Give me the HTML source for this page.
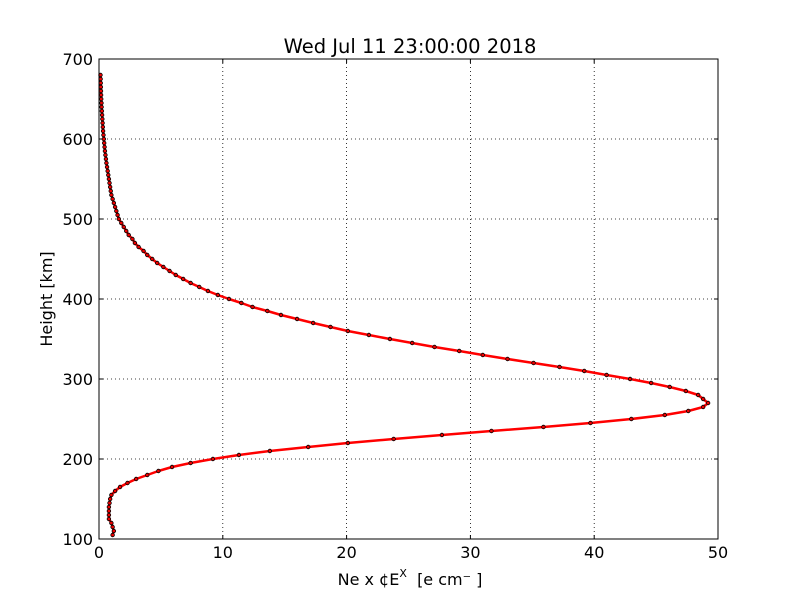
<!DOCTYPE html>
<html><head><meta charset="utf-8"><style>
body{margin:0;background:#fff}
svg text{font-family:"DejaVu Sans","Liberation Sans",sans-serif;fill:#000}
</style></head><body>
<svg id="chart" width="800" height="600">
<rect width="800" height="600" fill="#fff"/>
<text x="410" y="53" font-size="19.5" text-anchor="middle">Wed Jul 11 23:00:00 2018</text>
<g id="grid"></g>
<g id="ticks"></g>
<g id="series"></g>
<rect x="99" y="59" width="619" height="480" fill="none" stroke="#000" stroke-width="1"/>
<text x="410" y="585" font-size="16" text-anchor="middle">Ne x ¢E<tspan dy="-8" font-size="11">X</tspan><tspan dy="8" xml:space="preserve">  [e cm⁻ ]</tspan></text>
<text x="52" y="299" font-size="16" text-anchor="middle" transform="rotate(-90 52 299)">Height [km]</text>
</svg>
<script>
const xTicks=[0,10,20,30,40,50];
const yTicks=[100,200,300,400,500,600,700];
const heights=[105,110,115,120,125,130,135,140,145,150,155,160,165,170,175,180,185,190,195,200,205,210,215,220,225,230,235,240,245,250,255,260,265,270,275,280,285,290,295,300,305,310,315,320,325,330,335,340,345,350,355,360,365,370,375,380,385,390,395,400,405,410,415,420,425,430,435,440,445,450,455,460,465,470,475,480,485,490,495,500,505,510,515,520,525,530,535,540,545,550,555,560,565,570,575,580,585,590,595,600,605,610,615,620,625,630,635,640,645,650,655,660,665,670,675,680];
const density=[1.1,1.2,1.1,1.0,0.8,0.8,0.8,0.8,0.85,0.9,1.0,1.3,1.7,2.3,3.0,3.9,4.8,5.9,7.4,9.2,11.3,13.8,16.9,20.1,23.8,27.7,31.7,35.9,39.7,43.0,45.7,47.6,48.8,49.2,48.8,48.4,47.4,46.1,44.6,42.9,41.0,39.2,37.2,35.1,33.0,31.0,29.1,27.1,25.3,23.5,21.8,20.1,18.7,17.3,16.0,14.7,13.6,12.4,11.5,10.5,9.6,8.8,8.1,7.4,6.8,6.2,5.7,5.2,4.7,4.3,3.9,3.6,3.2,2.9,2.7,2.4,2.2,2.0,1.8,1.6,1.5,1.4,1.3,1.2,1.1,1.0,0.95,0.9,0.85,0.8,0.75,0.7,0.65,0.6,0.56,0.52,0.48,0.45,0.42,0.39,0.36,0.33,0.31,0.29,0.27,0.25,0.23,0.21,0.2,0.18,0.17,0.16,0.15,0.14,0.13,0.12];
const NS='http://www.w3.org/2000/svg';
const X0=99,X1=718,Y0=539,Y1=59;
function xs(v){return X0+(v-0)/(50-0)*(X1-X0);}
function ys(h){return Y0-(h-100)/(700-100)*(Y0-Y1);}
function mk(tag,attrs,parent){const e=document.createElementNS(NS,tag);for(const k in attrs)e.setAttribute(k,attrs[k]);parent.appendChild(e);return e;}
const grid=document.getElementById('grid'),ticks=document.getElementById('ticks'),series=document.getElementById('series');
xTicks.forEach(t=>{
  const x=xs(t);
  if(t>0&&t<50){const g=mk('line',{x1:x,x2:x,y1:Y1,y2:Y0,stroke:'#000','stroke-width':0.8,'stroke-dasharray':'1,3'},grid);
  
  }
  const a=mk('line',{x1:x,x2:x,y1:Y0,y2:Y0-4,stroke:'#000'},ticks);
  
  
  const b=mk('line',{x1:x,x2:x,y1:Y1,y2:Y1+4,stroke:'#000'},ticks);
  
  
  const l=mk('text',{x:x,y:558,'font-size':16,'text-anchor':'middle'},ticks);
  l.textContent=t;
  
  
});
yTicks.forEach(t=>{
  const y=ys(t);
  if(t>100&&t<700){const g=mk('line',{x1:X0,x2:X1,y1:y,y2:y,stroke:'#000','stroke-width':0.8,'stroke-dasharray':'1,3'},grid);
  
  }
  const a=mk('line',{x1:X0,x2:X0+4,y1:y,y2:y,stroke:'#000'},ticks);
  
  
  const b=mk('line',{x1:X1,x2:X1-4,y1:y,y2:y,stroke:'#000'},ticks);
  
  
  const l=mk('text',{x:93,y:y+6,'font-size':16,'text-anchor':'end'},ticks);
  l.textContent=t;
  
  
});
const pts=heights.map((h,i)=>xs(density[i]).toFixed(1)+','+ys(h).toFixed(1)).join(' ');
const line=mk('polyline',{points:pts,fill:'none',stroke:'#f00','stroke-width':2.5,'stroke-linejoin':'round'},series);


heights.forEach((h,i)=>{
  const c=mk('circle',{cx:xs(density[i]),cy:ys(h),r:1.8,fill:'#e00',stroke:'#000','stroke-width':0.8},series);
  
  
});
</script>
</body></html>
